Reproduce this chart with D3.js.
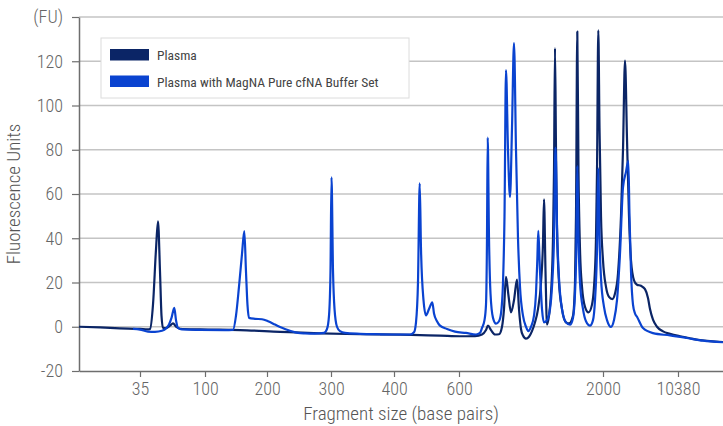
<!DOCTYPE html>
<html>
<head>
<meta charset="utf-8">
<script src="https://cdn.jsdelivr.net/npm/d3@7"></script>
<style>
  body { margin: 0; background: #fff; }
  svg { display: block; }
  text { font-family: 'Roboto', 'DejaVu Sans', sans-serif; font-stretch: 75%; }
</style>
</head>
<body>
<div id="chart"></div>
<script>
// series names
const seriesNames = ["Plasma", "Plasma with MagNA Pure cfNA Buffer Set"];

// Plasma trace: fragment size (bp) and fluorescence (FU)
const plasmaSize = [15, 21.9, 28.4, 35, 43, 45, 48, 51, 53, 55, 56.5, 58, 61, 65, 68, 71, 75, 95,
  156.5, 220.3, 282.8, 346, 418.5, 480, 541.5, 609.7, 755.6, 823.6, 862.5, 881.9, 911.1, 950, 988.9,
  1018.1, 1037.5, 1056.9, 1081.2, 1105.6, 1134.7, 1163.9, 1183.3, 1202.8, 1222.2, 1251.4, 1280.6,
  1309.7, 1338.9, 1368.1, 1397.2, 1416.7, 1426.4, 1441, 1455.6, 1475, 1494.4, 1513.9, 1523.6, 1533.3,
  1543.1, 1552.8, 1572.2, 1601.4, 1640.3, 1669.4, 1708.3, 1727.8, 1737.5, 1750.1, 1761.8, 1776.4,
  1795.8, 1825, 1859, 1893.1, 1912.5, 1931.9, 1941.7, 1954.3, 1966, 1980.6, 2000, 2335.2, 2670.4,
  3039.1, 3340.8, 3676, 4011.1, 4234.6, 4458.1, 4681.5, 4905, 5128.4, 5463.6, 5798.8, 6245.7, 6692.7,
  7027.9, 7251.3, 7586.5, 8033.4, 8703.8, 9486, 10674, 12145, 13616, 15087, 17000];
const plasmaFU = [0, -0.3, -0.7, -1, -1.2, -1, 10, 35, 47.6, 25, 5, -0.5, -0.6, 0.5, 1.5, 0, -0.9, -1.2,
  -1.5, -2.3, -3, -3.4, -3.6, -3.8, -4, -4.3, -4.2, -3.5, -1.5, 0.5, -1.5, -3.5, -3.4,
  0, 8, 22.6, 14, 6.5, 12, 21.3, 8, -1, -4, -5.4, -4.5,
  -2, 2, 8, 20, 38, 57.6, 25, 1, 5, 15, 40, 70, 126,
  80, 45, 20, 8, 2, 1.5, 5, 20, 50, 133.4, 70, 35,
  18, 9, 6.5, 10, 18, 40, 70, 134, 90, 50, 30, 18, 13.5,
  12.5, 15, 24, 50, 80, 120.3, 85, 50, 30, 21, 19, 18.5, 17,
  13, 8, 3.2, 0, -2.1, -3.2, -4.3, -5.2, -6, -6.5, -6.9];

// Plasma with MagNA Pure cfNA Buffer Set trace
const cfnaSize = [32.7, 35, 43, 50, 57, 61, 64, 66.5, 69.3, 71, 73, 77, 95, 132.3, 145.2, 150, 154.8,
  159.7, 163.4, 166.1, 168.5, 171, 180.6, 191.9, 201.6, 212.5, 223.4, 235.9, 248.4, 259.4, 275, 289.1,
  293.8, 296.9, 299.2, 300.8, 303.2, 305.6, 309.5, 314.3, 322.2, 346, 377.8, 418.5, 449.2, 461.5, 467.7,
  473.8, 479.1, 483.1, 490.8, 498.5, 507.7, 517.8, 523.1, 532.3, 541.5, 563.1, 587.7, 668.1, 765.3,
  804.2, 823.6, 847.9, 862.5, 872.2, 879, 891.7, 906.3, 930.6, 959.7, 988.9, 1008.3, 1027.8, 1042.4,
  1056.9, 1076.4, 1095.8, 1115.3, 1134.7, 1154.2, 1173.6, 1193.1, 1222.2, 1251.4, 1273.8, 1300, 1329.2,
  1348.6, 1361.3, 1371, 1387.5, 1406.9, 1426.4, 1455.6, 1484.7, 1504.2, 1523.6, 1538.2, 1552.8, 1572.2,
  1601.4, 1640.3, 1679.2, 1708.3, 1727.8, 1740.4, 1750.1, 1761.8, 1776.4, 1805.6, 1834.7, 1873.6,
  1902.8, 1922.2, 1941.7, 1954.3, 1966, 1980.6, 2111.7, 2446.9, 2893.8, 3229, 3564.2, 3899.4, 4234.6,
  4569.8, 4826.8, 4960.8, 5128.4, 5351.9, 5575.4, 5798.8, 6469.2, 7586.5, 9486, 11704, 14058, 17000];
const cfnaFU = [-1, -1.3, -2.2, -2.3, -1.8, -0.8, 1, 4, 8.5, 3, -0.5, -1.2, -1.4, -1.5, -1.4, 5, 18,
  33, 43.2, 25, 10, 4, 3.6, 3.4, 2.5, 1, -0.5, -1.8, -2.8, -3, -3.1, -2.8,
  -1, 5, 25, 67.5, 25, 8, 0, -2, -2.8, -3.2, -3.4, -3.5, -3.5, -2.5, 2,
  20, 64.8, 35, 12, 5.1, 8, 11, 6, 2.5, 0.5, -1, -2.2, -2.8, -3.5,
  -2.8, -0.5, 3, 10, 40, 85.5, 40, 15, 4, 1.4, 2.5, 6, 20, 50,
  116, 80, 58.6, 90, 128.2, 80, 40, 18, 5, 0, -2, 0, 5,
  15, 30, 43.3, 25, 8, 2, 3, 8, 18, 40, 81, 45, 22,
  8, 2, 0.9, 4, 15, 35, 72.7, 40, 20, 8, 2.5, 0.5,
  3, 12, 35, 71.6, 40, 22, 9, 3, -0.1, 3, 12, 33, 63,
  70, 75, 50, 25, 10, 6, 4.5, -0.6, -2.9, -3.9, -5.1, -6.3, -7];

// axes
const sizeStops = [15, 35, 100, 200, 300, 400, 600, 2000, 10380, 17000];
const xTicks = [35, 100, 200, 300, 400, 600, 2000, 10380];
const yTicks = [-20, 0, 20, 40, 60, 80, 100, 120, 140];
const yTopLabel = "(FU)";
const xTitle = "Fragment size (base pairs)";
const yTitle = "Fluorescence Units";

const colors = ["#0b2566", "#0a43d0"];

const width = 723;
const height = 426;
const margin = { left: 79, top: 17, right: 0, bottom: 55 };
const chartWidth = width - margin.left - margin.right;
const chartHeight = height - margin.top - margin.bottom;

// ladder-calibrated axis: piecewise between the size stops
const stopPos = [0, 61, 126, 188, 252, 315, 380, 524, 599, 644];
const xScale = d3.scaleLinear().domain(sizeStops).range(stopPos);
const yScale = d3.scaleLinear().domain([-20, 140]).range([chartHeight, 0]);

const svg = d3.select("#chart").append("svg")
  .attr("width", width)
  .attr("height", height);

const g = svg.append("g")
  .attr("transform", `translate(${margin.left}, ${margin.top})`);

// grid
g.append("g")
  .selectAll("line")
  .data(yTicks.filter(d => d > -20))
  .enter().append("line")
  .attr("x1", 0)
  .attr("x2", chartWidth)
  .attr("y1", d => yScale(d))
  .attr("y2", d => yScale(d))
  .style("stroke", "#c4c4c4")
  .style("stroke-width", 1.5);

// axes
const xAxis = g.append("g")
  .attr("transform", `translate(0, ${chartHeight})`)
  .call(d3.axisBottom(xScale).tickValues(xTicks).tickSize(6).tickSizeOuter(0).tickPadding(5)
    .tickFormat(d => d));

const yAxis = g.append("g")
  .call(d3.axisLeft(yScale).tickValues(yTicks).tickSize(7).tickSizeOuter(0).tickPadding(9)
    .tickFormat(d => d === 140 ? yTopLabel : d));

[xAxis, yAxis].forEach(a => {
  a.select(".domain").style("stroke", "#6e6e6e").style("stroke-width", 1.5);
  a.selectAll(".tick line").style("stroke", "#6e6e6e").style("stroke-width", 1.2);
  a.selectAll(".tick text")
    .style("fill", "#666")
    .style("font-size", "18px")
    .style("font-weight", 300)
    .style("font-family", null);
});

// traces
const line = d3.line()
  .x(d => xScale(d[0]))
  .y(d => yScale(d[1]))
  .curve(d3.curveMonotoneX);

const traces = [
  d3.zip(plasmaSize, plasmaFU),
  d3.zip(cfnaSize, cfnaFU)
];

g.selectAll(".trace")
  .data(traces)
  .enter().append("path")
  .attr("class", "trace")
  .attr("d", d => line(d))
  .style("fill", "none")
  .style("stroke", (d, i) => colors[i])
  .style("stroke-width", 2.2)
  .style("stroke-linejoin", "round");

// titles
svg.append("text")
  .attr("x", margin.left + chartWidth / 2)
  .attr("y", 420)
  .attr("text-anchor", "middle")
  .style("fill", "#555")
  .style("font-size", "19px")
  .style("font-weight", 300)
  .text(xTitle);

svg.append("text")
  .attr("transform", `translate(20, ${margin.top + chartHeight / 2}) rotate(-90)`)
  .attr("text-anchor", "middle")
  .style("fill", "#555")
  .style("font-size", "19px")
  .style("font-weight", 300)
  .text(yTitle);

// legend
const legend = svg.append("g").attr("transform", "translate(101, 38)");
legend.append("rect")
  .attr("width", 308)
  .attr("height", 60)
  .style("fill", "#fff")
  .style("stroke", "#dcdcdc");

const item = legend.selectAll(".item")
  .data(seriesNames)
  .enter().append("g")
  .attr("transform", (d, i) => `translate(9, ${11 + i * 26.5})`);

item.append("rect")
  .attr("width", 39)
  .attr("height", 11.5)
  .style("fill", (d, i) => colors[i]);

item.append("text")
  .attr("x", 47)
  .attr("y", 11)
  .style("fill", "#444")
  .style("font-size", "13.5px")
  .text(d => d);
</script>
</body>
</html>
